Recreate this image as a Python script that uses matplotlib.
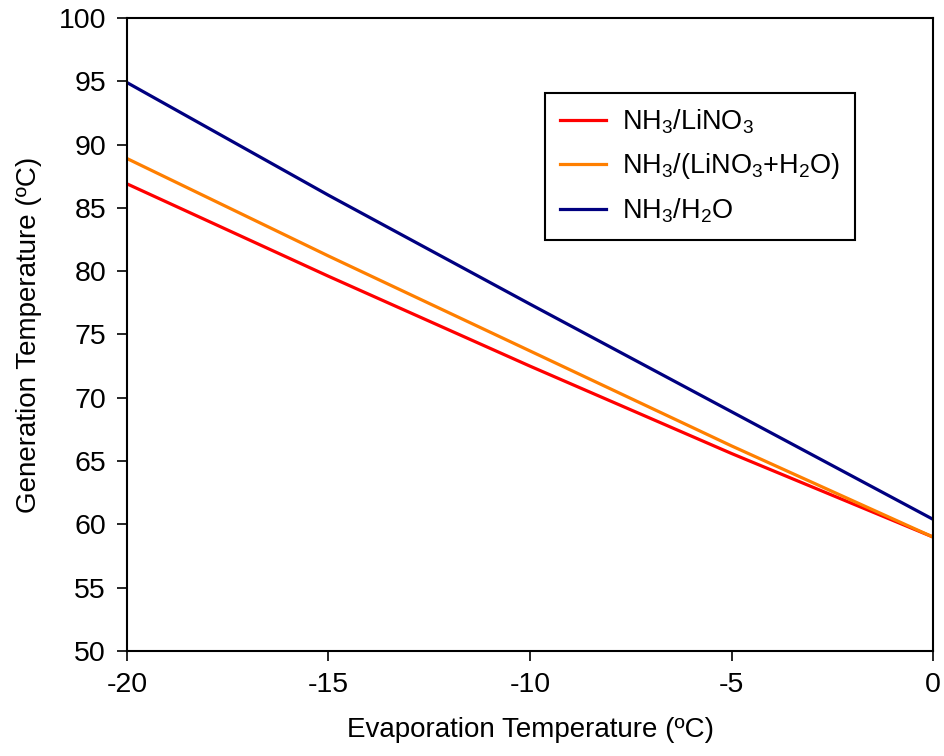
import numpy as np
import matplotlib
matplotlib.use('Agg')
import matplotlib.pyplot as plt

plt.rcParams['font.family'] = ['Liberation Sans', 'DejaVu Sans']
plt.rcParams['mathtext.fontset'] = 'custom'
plt.rcParams['mathtext.rm'] = 'Liberation Sans'
plt.rcParams['mathtext.it'] = 'Liberation Sans'
plt.rcParams['axes.unicode_minus'] = False

# Datos
t_evap = [-20, -15, -10, -5, 0]
t_gen_linO3 = [86.9, 79.6, 72.5, 65.6, 59.0]
t_gen_mezcla = [88.9, 81.2, 73.7, 66.2, 59.0]
t_gen_agua = [94.9, 86.0, 77.4, 68.9, 60.4]

etiquetas = [r'NH$_3$/LiNO$_3$', r'NH$_3$/(LiNO$_3$+H$_2$O)', r'NH$_3$/H$_2$O']
colores = ['#ff0000', '#ff7f00', '#000080']

fig = plt.figure(figsize=(9.44, 7.56), dpi=100)
ax = fig.add_axes([0.1345, 0.1389, 0.8539, 0.8373])

for serie, lab, c in zip([t_gen_linO3, t_gen_mezcla, t_gen_agua], etiquetas, colores):
    ax.plot(t_evap, serie, color=c, lw=2.3, label=lab)

ax.set_xlim(-20, 0)
ax.set_ylim(50, 100)
ax.set_xticks([-20, -15, -10, -5, 0])
ax.set_yticks(np.arange(50, 101, 5))
ax.tick_params(labelsize=20.5, direction='out', length=7, width=1.2, pad=8)
for s in ax.spines.values():
    s.set_linewidth(1.5)

ax.set_xlabel('Evaporation Temperature (ºC)', fontsize=20, labelpad=14)
ax.set_ylabel('Generation Temperature (ºC)', fontsize=20, labelpad=12)

leg = ax.legend(loc='upper left', bbox_to_anchor=(0.577, 0.877), bbox_transform=fig.transFigure,
                borderaxespad=0, fontsize=19.5, fancybox=False, framealpha=1,
                edgecolor='black', handlelength=1.7, handletextpad=0.6,
                labelspacing=0.55, borderpad=0.55)
leg.get_frame().set_linewidth(1.5)

plt.savefig('out.png', dpi=100)
